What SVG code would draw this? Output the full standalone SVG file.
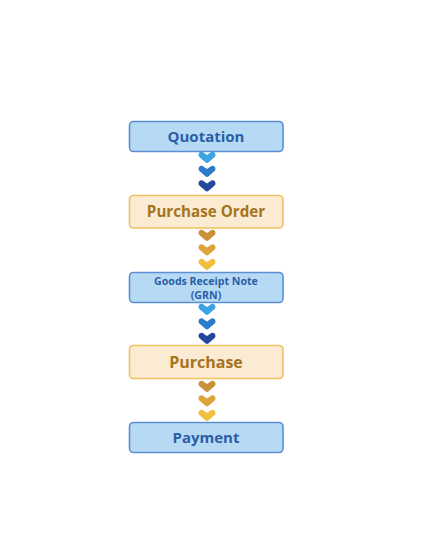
<svg xmlns="http://www.w3.org/2000/svg" width="421" height="541" viewBox="0 0 421 541">
<defs>
<style>
.bbox{fill:#B7DAF4;stroke:#5B8FD1;stroke-width:1.6}
.ybox{fill:#FBEBD3;stroke:#EFC162;stroke-width:1.6}
.bt{fill:#2B5EA6;font-family:"Open Sans","Noto Sans",sans-serif;font-weight:bold;text-anchor:middle}
.yt{fill:#A5741E;font-family:"Open Sans","Noto Sans",sans-serif;font-weight:bold;text-anchor:middle}
</style>
<path id="chev" d="M -8.5,-2 C -8.5,-5 -5.5,-6 -4,-4.8 L 0,-1.9 L 4,-4.8 C 5.5,-6 8.5,-5 8.5,-2 C 8.5,-1 8,-0.4 7.4,0.2 L 1.6,5.3 C 0.7,6.1 -0.7,6.1 -1.6,5.3 L -7.4,0.2 C -8,-0.4 -8.5,-1 -8.5,-2 Z"/>
</defs>
<rect width="421" height="541" fill="#FFFFFF"/>
<g id="connectors">
<use href="#chev" x="207" y="157" fill="#3BA4E1"/>
<use href="#chev" x="207" y="171" fill="#2E7BC7"/>
<use href="#chev" x="207" y="185.5" fill="#24489B"/>
<use href="#chev" x="207" y="235" fill="#C9913A"/>
<use href="#chev" x="207" y="249.5" fill="#DCA43A"/>
<use href="#chev" x="207" y="264" fill="#F2BE3E"/>
<use href="#chev" x="207" y="309" fill="#3BA4E1"/>
<use href="#chev" x="207" y="323.5" fill="#2E7BC7"/>
<use href="#chev" x="207" y="338" fill="#24489B"/>
<use href="#chev" x="207" y="386" fill="#C9913A"/>
<use href="#chev" x="207" y="400.5" fill="#DCA43A"/>
<use href="#chev" x="207" y="415" fill="#F2BE3E"/>
</g>
<g id="quotation">
<rect class="bbox" x="129.5" y="121.5" width="153.5" height="30" rx="4"/>
<text class="bt" x="206" y="142" font-size="15">Quotation</text>
</g>
<g id="purchase-order">
<rect class="ybox" x="129.5" y="195.5" width="153.5" height="32.5" rx="4"/>
<text class="yt" x="206" y="217" font-size="15.2">Purchase Order</text>
</g>
<g id="grn">
<rect class="bbox" x="129.5" y="272.5" width="153.5" height="30" rx="4"/>
<text class="bt" x="206" y="284.5" font-size="10.6">Goods Receipt Note</text>
<text class="bt" x="206" y="298.5" font-size="10.6">(GRN)</text>
</g>
<g id="purchase">
<rect class="ybox" x="129.5" y="345.5" width="153.5" height="33" rx="4"/>
<text class="yt" x="206" y="368" font-size="16">Purchase</text>
</g>
<g id="payment">
<rect class="bbox" x="129.5" y="422.5" width="153.5" height="30" rx="4"/>
<text class="bt" x="206" y="443" font-size="15">Payment</text>
</g>
</svg>
